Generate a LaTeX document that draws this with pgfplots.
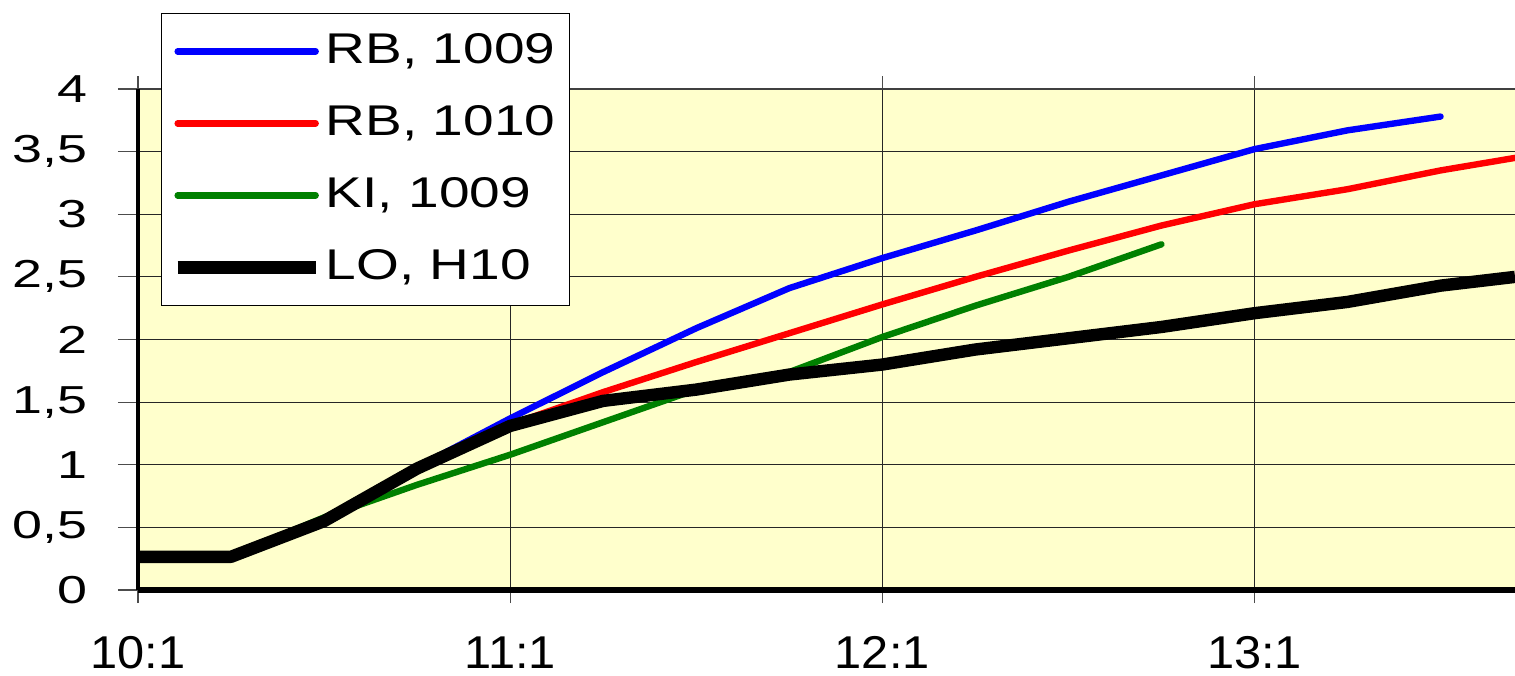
\documentclass[border=0pt]{standalone}
\usepackage{pgfplots}
\pgfplotsset{compat=1.18}
\usepackage{fontspec}
\setmainfont{Liberation Sans}
\newfontfamily\legfont[FakeStretch=1.28]{Liberation Sans}
\newfontfamily\yfont[FakeStretch=1.38]{Liberation Sans}
\newfontfamily\xfont[FakeStretch=1.06]{Liberation Sans}
\definecolor{bgyellow}{RGB}{255,255,204}
\definecolor{lblue}{RGB}{0,0,255}
\definecolor{lred}{RGB}{255,0,0}
\definecolor{lgreen}{RGB}{0,128,0}
\begin{document}
\begin{tikzpicture}
\begin{axis}[
  name=ax,
  scale only axis,
  width=688.5bp, height=250.5bp,
  xmin=0, xmax=3.7, ymin=0, ymax=4,
  clip=false,
  xtick={0,1,2,3},
  xticklabels={10:1,11:1,12:1,13:1},
  ytick={0,0.5,1,1.5,2,2.5,3,3.5,4},
  /pgf/number format/assume math mode=true,
  /pgf/number format/use comma,
  yticklabel={\pgfmathprintnumber{\tick}},
  yticklabel style={font=\yfont\fontsize{19.5bp}{22bp}\selectfont, anchor=east, inner sep=0pt, xshift=-15bp},
  xticklabel style={font=\xfont\fontsize{23bp}{26bp}\selectfont, anchor=north, inner sep=0pt, yshift=-13bp},
  grid=major,
  major grid style={black!85, line width=0.6bp},
  axis background/.style={fill=bgyellow},
  axis line style={draw=none},
  tick align=outside,
  major tick length=10bp,
  xtick style={black!70, line width=0.6bp, /pgfplots/major tick length=6.5bp},
  ytick style={black!70, line width=0.6bp},
  legend style={at={(axis description cs:0.0167,1.152)}, anchor=north west,
    draw=black, line width=0.5bp, fill=white,
    font=\legfont\fontsize{21.5bp}{25bp}\selectfont,
    inner xsep=5bp, inner ysep=7bp, row sep=12bp,
    nodes={inner sep=2bp, text height=16bp, text depth=4bp}},
  legend cell align=left,
  legend image code/.code={\draw[#1] (1.5bp,0bp) -- (70.5bp,0bp);},
]
\draw[black!75, line width=1.4bp] (rel axis cs:0,1) -- (rel axis cs:1,1);
\draw[black, line width=2bp] (rel axis cs:0,0) -- (rel axis cs:0,1);
\draw[black, line width=2.6bp] (rel axis cs:0,0) -- (rel axis cs:1,0);

\addplot[lblue, line width=3.2bp, line cap=round, line join=round] coordinates {
(0.25,0.27) (0.5,0.56) (0.75,0.98) (1,1.37) (1.25,1.74) (1.5,2.09)
(1.75,2.41) (2,2.65) (2.25,2.87) (2.5,3.10) (2.75,3.31) (3,3.52) (3.25,3.67) (3.5,3.78)};
\addlegendentry{RB, 1009}
\addplot[lred, line width=3.2bp, line cap=round, line join=round] coordinates {
(0.25,0.27) (0.5,0.56) (0.75,0.98) (1,1.32) (1.25,1.58) (1.5,1.82)
(1.75,2.05) (2,2.28) (2.25,2.50) (2.5,2.71) (2.75,2.91) (3,3.08) (3.25,3.20) (3.5,3.35) (3.7,3.45)};
\addlegendentry{RB, 1010}
\addplot[lgreen, line width=3.2bp, line cap=round, line join=round] coordinates {
(0.25,0.27) (0.5,0.58) (0.75,0.84) (1,1.08) (1.25,1.34) (1.5,1.60)
(1.75,1.74) (2,2.02) (2.25,2.27) (2.5,2.50) (2.75,2.76)};
\addlegendentry{KI, 1009}
\addplot[black, line width=6.2bp, line cap=butt, line join=round] coordinates {
(0,0.265) (0.25,0.265) (0.5,0.55) (0.75,0.97) (1,1.31) (1.25,1.51) (1.5,1.60)
(1.75,1.72) (2,1.80) (2.25,1.92) (2.5,2.01) (2.75,2.10) (3,2.21) (3.25,2.30) (3.5,2.43) (3.7,2.50)};
\addlegendentry{LO, H10}
\end{axis}
\pgfresetboundingbox
\path[use as bounding box] ([shift={(-69bp,-43bp)}]ax.south west) rectangle ++(757.5bp,338bp);
\end{tikzpicture}
\end{document}
